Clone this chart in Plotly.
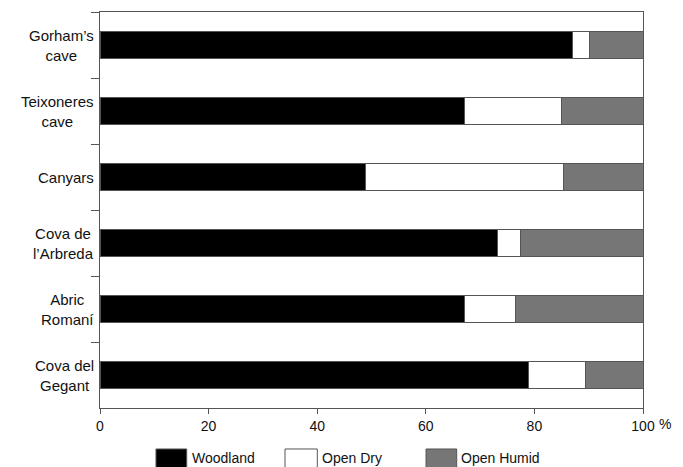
import plotly.graph_objects as go

sites = ["Gorham’s cave", "Teixoneres cave", "Canyars", "Cova de l’Arbreda", "Abric Romaní", "Cova del Gegant"]
site_labels = ["Gorham’s<br>cave", "Teixoneres<br>cave", "Canyars", "Cova de<br>l’Arbreda", "Abric<br>Romaní", "Cova del<br>Gegant"]
woodland = [87.1, 67.1, 48.9, 73.2, 67.2, 79.0]
open_dry = [3.0, 17.8, 36.5, 4.3, 9.4, 10.4]
open_humid = [round(100 - w - d, 1) for w, d in zip(woodland, open_dry)]
x_ticks = [0, 20, 40, 60, 80, 100]

series_names = ["Woodland", "Open Dry", "Open Humid"]
series_colors = ["#000000", "#ffffff", "#767676"]

font = "Liberation Sans, Arial, sans-serif"
edge = dict(color="#555555", width=1)

fig = go.Figure()
for name, vals, col in zip(series_names, [woodland, open_dry, open_humid], series_colors):
    fig.add_trace(go.Bar(y=sites, x=vals, name=name, orientation="h",
                         marker=dict(color=col, line=edge), width=0.41, showlegend=False))

for s, lab in zip(sites, site_labels):
    fig.add_annotation(x=-0.008, xref="paper", y=s, yref="y", text=lab, showarrow=False,
                       xanchor="right", align="center", font=dict(size=15, color="#111", family=font))

fig.add_annotation(x=1.025, xref="paper", y=-0.04, yref="paper", text="%", showarrow=False,
                   xanchor="left", yanchor="middle", font=dict(size=14, color="#111", family=font))

# legend drawn as boxes + text
legend_box_x = [(0.1031, 0.1597), (0.3407, 0.4002), (0.6004, 0.6569)]
legend_text_x = [0.165, 0.406, 0.661]
for (x0, x1), tx, name, col in zip(legend_box_x, legend_text_x, series_names, series_colors):
    fig.add_shape(type="rect", xref="paper", yref="paper", x0=x0, x1=x1, y0=-0.1035, y1=-0.16,
                  fillcolor=col, line=dict(color="#555555", width=1))
    fig.add_annotation(x=tx, xref="paper", y=-0.1263, yref="paper", text=name, showarrow=False,
                       xanchor="left", yanchor="middle", font=dict(size=14, color="#111", family=font))

fig.update_layout(
    width=683, height=467,
    margin=dict(l=92, r=48, t=4, b=67),
    barmode="stack",
    plot_bgcolor="white", paper_bgcolor="white",
    font=dict(family=font, size=14, color="#111"),
    showlegend=False,
    xaxis=dict(range=[0, 100], tickvals=x_ticks, ticks="outside", ticklen=5,
               tickcolor="#555", showline=True, linecolor="#555", linewidth=1.2, mirror=True,
               showgrid=False, zeroline=False, tickfont=dict(size=14), automargin=False),
    yaxis=dict(categoryorder="array", categoryarray=sites, autorange="reversed",
               showticklabels=False, ticks="outside", ticklen=8, tickson="boundaries",
               tickcolor="#555", showline=True, linecolor="#555", linewidth=1.2, mirror=True,
               showgrid=False, zeroline=False, automargin=False),
)

fig.write_html("out.html")
